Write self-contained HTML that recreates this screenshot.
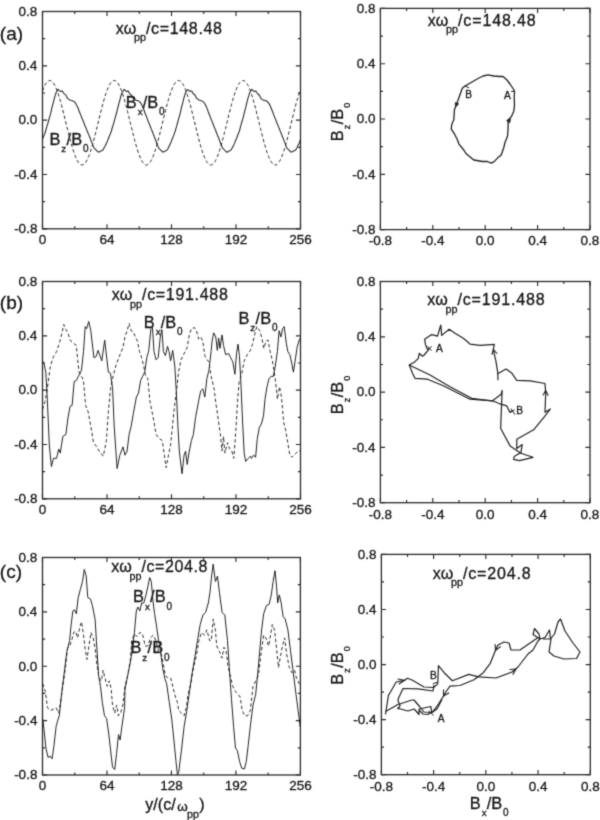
<!DOCTYPE html>
<html><head><meta charset="utf-8"><style>
html,body{margin:0;padding:0;background:#fff;}
svg{display:block;will-change:transform;}
text{font-family:"Liberation Sans",sans-serif;fill:#151515;stroke:#151515;stroke-width:0.3px;}
</style></head><body>
<svg width="600" height="820" viewBox="0 0 600 820">
<defs><filter id="bl" x="0" y="0" width="600" height="820" filterUnits="userSpaceOnUse" color-interpolation-filters="sRGB"><feConvolveMatrix order="3" kernelMatrix="0.0225 0.1050 0.0225 0.1050 0.4900 0.1050 0.0225 0.1050 0.0225" divisor="1" edgeMode="duplicate"/></filter></defs><g filter="url(#bl)"><rect width="600" height="820" fill="#fff"/>
<rect x="42.5" y="11.5" width="258.00" height="217.30" fill="none" stroke="#2b2b2b" stroke-width="1.3"/>
<path d="M42.50,228.8v-4.6M42.50,11.5v4.6M107.00,228.8v-4.6M107.00,11.5v4.6M171.50,228.8v-4.6M171.50,11.5v4.6M236.00,228.8v-4.6M236.00,11.5v4.6M300.50,228.8v-4.6M300.50,11.5v4.6M74.75,228.8v-2.6M74.75,11.5v2.6M139.25,228.8v-2.6M139.25,11.5v2.6M203.75,228.8v-2.6M203.75,11.5v2.6M268.25,228.8v-2.6M268.25,11.5v2.6M42.5,11.50h4.6M300.5,11.50h-4.6M42.5,65.83h4.6M300.5,65.83h-4.6M42.5,120.15h4.6M300.5,120.15h-4.6M42.5,174.48h4.6M300.5,174.48h-4.6M42.5,228.80h4.6M300.5,228.80h-4.6M42.5,38.66h2.6M300.5,38.66h-2.6M42.5,92.99h2.6M300.5,92.99h-2.6M42.5,147.31h2.6M300.5,147.31h-2.6M42.5,201.64h2.6M300.5,201.64h-2.6" stroke="#2b2b2b" stroke-width="1.15" fill="none"/>
<text x="37.40" y="15.80" font-size="13.5" text-anchor="end">0.8</text>
<text x="37.40" y="70.12" font-size="13.5" text-anchor="end">0.4</text>
<text x="37.40" y="124.45" font-size="13.5" text-anchor="end">0.0</text>
<text x="37.40" y="178.78" font-size="13.5" text-anchor="end">-0.4</text>
<text x="37.40" y="233.10" font-size="13.5" text-anchor="end">-0.8</text>
<text x="42.50" y="244.10" font-size="13.5" text-anchor="middle">0</text>
<text x="107.00" y="244.10" font-size="13.5" text-anchor="middle">64</text>
<text x="171.50" y="244.10" font-size="13.5" text-anchor="middle">128</text>
<text x="236.00" y="244.10" font-size="13.5" text-anchor="middle">192</text>
<text x="300.50" y="244.10" font-size="13.5" text-anchor="middle">256</text>
<rect x="42.5" y="281.5" width="258.00" height="217.30" fill="none" stroke="#2b2b2b" stroke-width="1.3"/>
<path d="M42.50,498.8v-4.6M42.50,281.5v4.6M107.00,498.8v-4.6M107.00,281.5v4.6M171.50,498.8v-4.6M171.50,281.5v4.6M236.00,498.8v-4.6M236.00,281.5v4.6M300.50,498.8v-4.6M300.50,281.5v4.6M74.75,498.8v-2.6M74.75,281.5v2.6M139.25,498.8v-2.6M139.25,281.5v2.6M203.75,498.8v-2.6M203.75,281.5v2.6M268.25,498.8v-2.6M268.25,281.5v2.6M42.5,281.50h4.6M300.5,281.50h-4.6M42.5,335.82h4.6M300.5,335.82h-4.6M42.5,390.15h4.6M300.5,390.15h-4.6M42.5,444.48h4.6M300.5,444.48h-4.6M42.5,498.80h4.6M300.5,498.80h-4.6M42.5,308.66h2.6M300.5,308.66h-2.6M42.5,362.99h2.6M300.5,362.99h-2.6M42.5,417.31h2.6M300.5,417.31h-2.6M42.5,471.64h2.6M300.5,471.64h-2.6" stroke="#2b2b2b" stroke-width="1.15" fill="none"/>
<text x="37.40" y="285.80" font-size="13.5" text-anchor="end">0.8</text>
<text x="37.40" y="340.12" font-size="13.5" text-anchor="end">0.4</text>
<text x="37.40" y="394.45" font-size="13.5" text-anchor="end">0.0</text>
<text x="37.40" y="448.78" font-size="13.5" text-anchor="end">-0.4</text>
<text x="37.40" y="503.10" font-size="13.5" text-anchor="end">-0.8</text>
<text x="42.50" y="514.10" font-size="13.5" text-anchor="middle">0</text>
<text x="107.00" y="514.10" font-size="13.5" text-anchor="middle">64</text>
<text x="171.50" y="514.10" font-size="13.5" text-anchor="middle">128</text>
<text x="236.00" y="514.10" font-size="13.5" text-anchor="middle">192</text>
<text x="300.50" y="514.10" font-size="13.5" text-anchor="middle">256</text>
<rect x="42.5" y="557.5" width="257.90" height="217.50" fill="none" stroke="#2b2b2b" stroke-width="1.3"/>
<path d="M42.50,775.0v-4.6M42.50,557.5v4.6M106.97,775.0v-4.6M106.97,557.5v4.6M171.45,775.0v-4.6M171.45,557.5v4.6M235.92,775.0v-4.6M235.92,557.5v4.6M300.40,775.0v-4.6M300.40,557.5v4.6M74.74,775.0v-2.6M74.74,557.5v2.6M139.21,775.0v-2.6M139.21,557.5v2.6M203.69,775.0v-2.6M203.69,557.5v2.6M268.16,775.0v-2.6M268.16,557.5v2.6M42.5,557.50h4.6M300.4,557.50h-4.6M42.5,611.88h4.6M300.4,611.88h-4.6M42.5,666.25h4.6M300.4,666.25h-4.6M42.5,720.62h4.6M300.4,720.62h-4.6M42.5,775.00h4.6M300.4,775.00h-4.6M42.5,584.69h2.6M300.4,584.69h-2.6M42.5,639.06h2.6M300.4,639.06h-2.6M42.5,693.44h2.6M300.4,693.44h-2.6M42.5,747.81h2.6M300.4,747.81h-2.6" stroke="#2b2b2b" stroke-width="1.15" fill="none"/>
<text x="37.40" y="561.80" font-size="13.5" text-anchor="end">0.8</text>
<text x="37.40" y="616.17" font-size="13.5" text-anchor="end">0.4</text>
<text x="37.40" y="670.55" font-size="13.5" text-anchor="end">0.0</text>
<text x="37.40" y="724.92" font-size="13.5" text-anchor="end">-0.4</text>
<text x="37.40" y="779.30" font-size="13.5" text-anchor="end">-0.8</text>
<text x="42.50" y="790.30" font-size="13.5" text-anchor="middle">0</text>
<text x="106.97" y="790.30" font-size="13.5" text-anchor="middle">64</text>
<text x="171.45" y="790.30" font-size="13.5" text-anchor="middle">128</text>
<text x="235.92" y="790.30" font-size="13.5" text-anchor="middle">192</text>
<text x="300.40" y="790.30" font-size="13.5" text-anchor="middle">256</text>
<rect x="380.4" y="8.4" width="209.60" height="221.20" fill="none" stroke="#2b2b2b" stroke-width="1.3"/>
<path d="M380.40,229.6v-4.6M380.40,8.4v4.6M432.80,229.6v-4.6M432.80,8.4v4.6M485.20,229.6v-4.6M485.20,8.4v4.6M537.60,229.6v-4.6M537.60,8.4v4.6M590.00,229.6v-4.6M590.00,8.4v4.6M406.60,229.6v-2.6M406.60,8.4v2.6M459.00,229.6v-2.6M459.00,8.4v2.6M511.40,229.6v-2.6M511.40,8.4v2.6M563.80,229.6v-2.6M563.80,8.4v2.6M380.4,8.40h4.6M590.0,8.40h-4.6M380.4,63.70h4.6M590.0,63.70h-4.6M380.4,119.00h4.6M590.0,119.00h-4.6M380.4,174.30h4.6M590.0,174.30h-4.6M380.4,229.60h4.6M590.0,229.60h-4.6M380.4,36.05h2.6M590.0,36.05h-2.6M380.4,91.35h2.6M590.0,91.35h-2.6M380.4,146.65h2.6M590.0,146.65h-2.6M380.4,201.95h2.6M590.0,201.95h-2.6" stroke="#2b2b2b" stroke-width="1.15" fill="none"/>
<text x="375.60" y="12.70" font-size="13.5" text-anchor="end">0.8</text>
<text x="375.60" y="68.00" font-size="13.5" text-anchor="end">0.4</text>
<text x="375.60" y="123.30" font-size="13.5" text-anchor="end">0.0</text>
<text x="375.60" y="178.60" font-size="13.5" text-anchor="end">-0.4</text>
<text x="375.60" y="233.90" font-size="13.5" text-anchor="end">-0.8</text>
<text x="380.40" y="245.40" font-size="13.5" text-anchor="middle">-0.8</text>
<text x="432.80" y="245.40" font-size="13.5" text-anchor="middle">-0.4</text>
<text x="485.20" y="245.40" font-size="13.5" text-anchor="middle">0.0</text>
<text x="537.60" y="245.40" font-size="13.5" text-anchor="middle">0.4</text>
<text x="590.00" y="245.40" font-size="13.5" text-anchor="middle">0.8</text>
<rect x="380.4" y="281.5" width="209.60" height="221.20" fill="none" stroke="#2b2b2b" stroke-width="1.3"/>
<path d="M380.40,502.7v-4.6M380.40,281.5v4.6M432.80,502.7v-4.6M432.80,281.5v4.6M485.20,502.7v-4.6M485.20,281.5v4.6M537.60,502.7v-4.6M537.60,281.5v4.6M590.00,502.7v-4.6M590.00,281.5v4.6M406.60,502.7v-2.6M406.60,281.5v2.6M459.00,502.7v-2.6M459.00,281.5v2.6M511.40,502.7v-2.6M511.40,281.5v2.6M563.80,502.7v-2.6M563.80,281.5v2.6M380.4,281.50h4.6M590.0,281.50h-4.6M380.4,336.80h4.6M590.0,336.80h-4.6M380.4,392.10h4.6M590.0,392.10h-4.6M380.4,447.40h4.6M590.0,447.40h-4.6M380.4,502.70h4.6M590.0,502.70h-4.6M380.4,309.15h2.6M590.0,309.15h-2.6M380.4,364.45h2.6M590.0,364.45h-2.6M380.4,419.75h2.6M590.0,419.75h-2.6M380.4,475.05h2.6M590.0,475.05h-2.6" stroke="#2b2b2b" stroke-width="1.15" fill="none"/>
<text x="375.60" y="285.80" font-size="13.5" text-anchor="end">0.8</text>
<text x="375.60" y="341.10" font-size="13.5" text-anchor="end">0.4</text>
<text x="375.60" y="396.40" font-size="13.5" text-anchor="end">0.0</text>
<text x="375.60" y="451.70" font-size="13.5" text-anchor="end">-0.4</text>
<text x="375.60" y="507.00" font-size="13.5" text-anchor="end">-0.8</text>
<text x="380.40" y="518.50" font-size="13.5" text-anchor="middle">-0.8</text>
<text x="432.80" y="518.50" font-size="13.5" text-anchor="middle">-0.4</text>
<text x="485.20" y="518.50" font-size="13.5" text-anchor="middle">0.0</text>
<text x="537.60" y="518.50" font-size="13.5" text-anchor="middle">0.4</text>
<text x="590.00" y="518.50" font-size="13.5" text-anchor="middle">0.8</text>
<rect x="381.4" y="554.4" width="208.90" height="220.30" fill="none" stroke="#2b2b2b" stroke-width="1.3"/>
<path d="M381.40,774.7v-4.6M381.40,554.4v4.6M433.62,774.7v-4.6M433.62,554.4v4.6M485.85,774.7v-4.6M485.85,554.4v4.6M538.07,774.7v-4.6M538.07,554.4v4.6M590.30,774.7v-4.6M590.30,554.4v4.6M407.51,774.7v-2.6M407.51,554.4v2.6M459.74,774.7v-2.6M459.74,554.4v2.6M511.96,774.7v-2.6M511.96,554.4v2.6M564.19,774.7v-2.6M564.19,554.4v2.6M381.4,554.40h4.6M590.3,554.40h-4.6M381.4,609.48h4.6M590.3,609.48h-4.6M381.4,664.55h4.6M590.3,664.55h-4.6M381.4,719.62h4.6M590.3,719.62h-4.6M381.4,774.70h4.6M590.3,774.70h-4.6M381.4,581.94h2.6M590.3,581.94h-2.6M381.4,637.01h2.6M590.3,637.01h-2.6M381.4,692.09h2.6M590.3,692.09h-2.6M381.4,747.16h2.6M590.3,747.16h-2.6" stroke="#2b2b2b" stroke-width="1.15" fill="none"/>
<text x="376.60" y="558.70" font-size="13.5" text-anchor="end">0.8</text>
<text x="376.60" y="613.77" font-size="13.5" text-anchor="end">0.4</text>
<text x="376.60" y="668.85" font-size="13.5" text-anchor="end">0.0</text>
<text x="376.60" y="723.92" font-size="13.5" text-anchor="end">-0.4</text>
<text x="376.60" y="779.00" font-size="13.5" text-anchor="end">-0.8</text>
<text x="381.40" y="790.50" font-size="13.5" text-anchor="middle">-0.8</text>
<text x="433.62" y="790.50" font-size="13.5" text-anchor="middle">-0.4</text>
<text x="485.85" y="790.50" font-size="13.5" text-anchor="middle">0.0</text>
<text x="538.07" y="790.50" font-size="13.5" text-anchor="middle">0.4</text>
<text x="590.30" y="790.50" font-size="13.5" text-anchor="middle">0.8</text>
<text x="115.82" y="34.10" font-size="16.0" text-anchor="start">xω</text>
<text x="134.10" y="41.40" font-size="10.8" text-anchor="start">pp</text>
<text x="146.00" y="34.10" font-size="16.0" text-anchor="start" textLength="76.00" lengthAdjust="spacing">/c=148.48</text>
<text x="427.82" y="26.10" font-size="16.0" text-anchor="start">xω</text>
<text x="446.10" y="33.40" font-size="10.8" text-anchor="start">pp</text>
<text x="458.00" y="26.10" font-size="16.0" text-anchor="start" textLength="77.70" lengthAdjust="spacing">/c=148.48</text>
<text x="111.82" y="300.20" font-size="16.0" text-anchor="start">xω</text>
<text x="130.10" y="307.50" font-size="10.8" text-anchor="start">pp</text>
<text x="142.00" y="300.20" font-size="16.0" text-anchor="start" textLength="85.80" lengthAdjust="spacing">/c=191.488</text>
<text x="427.32" y="305.30" font-size="16.0" text-anchor="start">xω</text>
<text x="445.60" y="312.60" font-size="10.8" text-anchor="start">pp</text>
<text x="457.50" y="305.30" font-size="16.0" text-anchor="start" textLength="87.20" lengthAdjust="spacing">/c=191.488</text>
<text x="111.32" y="572.20" font-size="16.0" text-anchor="start">xω</text>
<text x="129.60" y="579.50" font-size="10.8" text-anchor="start">pp</text>
<text x="141.50" y="572.20" font-size="16.0" text-anchor="start" textLength="65.90" lengthAdjust="spacing">/c=204.8</text>
<text x="432.82" y="578.60" font-size="16.0" text-anchor="start">xω</text>
<text x="451.10" y="585.90" font-size="10.8" text-anchor="start">pp</text>
<text x="463.00" y="578.60" font-size="16.0" text-anchor="start" textLength="67.70" lengthAdjust="spacing">/c=204.8</text>
<text x="-0.18" y="40.30" font-size="19.0" text-anchor="start">(a)</text>
<text x="-0.18" y="309.40" font-size="19.0" text-anchor="start">(b)</text>
<text x="-0.18" y="578.00" font-size="19.0" text-anchor="start">(c)</text>
<text x="125.66" y="107.90" font-size="16.4" text-anchor="start">B</text>
<text x="137.69" y="115.30" font-size="9.8" text-anchor="start">x</text>
<text x="142.80" y="107.90" font-size="16.4" text-anchor="start">/B</text>
<text x="159.11" y="115.30" font-size="10.0" text-anchor="start">0</text>
<text x="49.46" y="145.10" font-size="16.4" text-anchor="start">B</text>
<text x="61.20" y="152.20" font-size="9.8" text-anchor="start">z</text>
<text x="66.60" y="145.10" font-size="16.4" text-anchor="start">/B</text>
<text x="82.91" y="152.20" font-size="10.0" text-anchor="start">0</text>
<text x="143.66" y="327.50" font-size="16.4" text-anchor="start">B</text>
<text x="155.69" y="334.90" font-size="9.8" text-anchor="start">x</text>
<text x="160.80" y="327.50" font-size="16.4" text-anchor="start">/B</text>
<text x="177.11" y="334.90" font-size="10.0" text-anchor="start">0</text>
<text x="238.46" y="323.50" font-size="16.4" text-anchor="start">B</text>
<text x="250.20" y="330.60" font-size="9.8" text-anchor="start">z</text>
<text x="255.60" y="323.50" font-size="16.4" text-anchor="start">/B</text>
<text x="271.91" y="330.60" font-size="10.0" text-anchor="start">0</text>
<text x="132.96" y="602.30" font-size="16.4" text-anchor="start">B</text>
<text x="144.99" y="609.70" font-size="9.8" text-anchor="start">x</text>
<text x="150.10" y="602.30" font-size="16.4" text-anchor="start">/B</text>
<text x="166.41" y="609.70" font-size="10.0" text-anchor="start">0</text>
<text x="130.46" y="653.40" font-size="16.4" text-anchor="start">B</text>
<text x="142.20" y="660.50" font-size="9.8" text-anchor="start">z</text>
<text x="147.60" y="653.40" font-size="16.4" text-anchor="start">/B</text>
<text x="163.91" y="660.50" font-size="10.0" text-anchor="start">0</text>
<text x="469.66" y="808.60" font-size="16.4" text-anchor="start">B</text>
<text x="481.69" y="816.00" font-size="9.8" text-anchor="start">x</text>
<text x="486.80" y="808.60" font-size="16.4" text-anchor="start">/B</text>
<text x="503.11" y="816.00" font-size="10.0" text-anchor="start">0</text>
<g transform="translate(342.6,140.0) rotate(-90)"><text x="-1.34" y="0.00" font-size="16.4" text-anchor="start">B</text>
<text x="10.40" y="7.00" font-size="9.8" text-anchor="start">z</text>
<text x="15.80" y="0.00" font-size="16.4" text-anchor="start">/B</text>
<text x="32.15" y="7.00" font-size="9.0" text-anchor="start">0</text></g>
<g transform="translate(342.6,413.0) rotate(-90)"><text x="-1.34" y="0.00" font-size="16.4" text-anchor="start">B</text>
<text x="10.40" y="7.00" font-size="9.8" text-anchor="start">z</text>
<text x="15.80" y="0.00" font-size="16.4" text-anchor="start">/B</text>
<text x="32.15" y="7.00" font-size="9.0" text-anchor="start">0</text></g>
<g transform="translate(342.6,683.5) rotate(-90)"><text x="-1.34" y="0.00" font-size="16.4" text-anchor="start">B</text>
<text x="10.40" y="7.00" font-size="9.8" text-anchor="start">z</text>
<text x="15.80" y="0.00" font-size="16.4" text-anchor="start">/B</text>
<text x="32.15" y="7.00" font-size="9.0" text-anchor="start">0</text></g>
<text x="145.36" y="810.30" font-size="16.0" text-anchor="start">y/(c/</text>
<text x="177.36" y="810.50" font-size="13.4" text-anchor="start">ω</text>
<text x="187.10" y="817.60" font-size="10.8" text-anchor="start">pp</text>
<text x="199.16" y="810.30" font-size="16.0" text-anchor="start">)</text>
<path d="M42.5,90.8 L43.0,89.5 L43.5,88.2 L44.0,87.1 L44.5,86.0 L45.0,85.0 L45.5,84.2 L46.0,83.4 L46.5,82.7 L47.0,82.1 L47.5,81.6 L48.0,81.1 L48.5,80.8 L49.0,80.6 L49.5,80.5 L50.0,80.5 L50.5,80.6 L51.0,80.8 L51.5,81.1 L52.0,81.5 L52.5,82.0 L53.0,82.5 L53.5,83.2 L54.0,84.0 L54.5,84.9 L55.0,85.8 L55.5,86.9 L56.0,88.0 L56.5,89.2 L57.0,90.5 L57.5,91.9 L58.0,93.3 L58.5,94.8 L59.0,96.4 L59.5,98.0 L60.0,99.8 L60.5,101.5 L61.0,103.3 L61.5,105.2 L62.0,107.1 L62.5,109.0 L63.0,111.0 L63.5,112.9 L64.0,115.0 L64.5,117.0 L65.0,119.0 L65.5,121.1 L66.0,123.2 L66.5,125.2 L67.0,127.3 L67.5,129.3 L68.0,131.3 L68.5,133.4 L69.0,135.3 L69.5,137.3 L70.0,139.2 L70.5,141.1 L71.0,142.9 L71.5,144.7 L72.0,146.4 L72.5,148.1 L73.0,149.7 L73.5,151.3 L74.0,152.8 L74.5,154.2 L75.0,155.5 L75.5,156.8 L76.0,158.0 L76.5,159.1 L77.0,160.1 L77.5,161.0 L78.0,161.8 L78.5,162.6 L79.0,163.2 L79.5,163.7 L80.0,164.2 L80.5,164.5 L81.0,164.8 L81.5,164.9 L82.0,165.0 L82.5,164.9 L83.0,164.8 L83.5,164.5 L84.0,164.2 L84.5,163.7 L85.0,163.2 L85.5,162.6 L86.0,161.8 L86.5,161.0 L87.0,160.1 L87.5,159.1 L88.0,158.0 L88.5,156.8 L89.0,155.5 L89.5,154.2 L90.0,152.8 L90.5,151.3 L91.0,149.7 L91.5,148.1 L92.0,146.4 L92.5,144.7 L93.0,142.9 L93.5,141.1 L94.0,139.2 L94.5,137.3 L95.0,135.3 L95.5,133.4 L96.0,131.3 L96.5,129.3 L97.0,127.3 L97.5,125.2 L98.0,123.2 L98.5,121.1 L99.0,119.0 L99.5,117.0 L100.0,115.0 L100.5,112.9 L101.0,111.0 L101.5,109.0 L102.0,107.1 L102.5,105.2 L103.0,103.3 L103.5,101.5 L104.0,99.8 L104.5,98.0 L105.0,96.4 L105.5,94.8 L106.0,93.3 L106.5,91.9 L107.0,90.5 L107.5,89.2 L108.0,88.0 L108.5,86.9 L109.0,85.8 L109.5,84.9 L110.0,84.0 L110.5,83.2 L111.0,82.5 L111.5,82.0 L112.0,81.5 L112.5,81.1 L113.0,80.8 L113.5,80.6 L114.0,80.5 L114.5,80.5 L115.0,80.6 L115.5,80.8 L116.0,81.1 L116.5,81.6 L117.0,82.1 L117.5,82.7 L118.0,83.4 L118.5,84.2 L119.0,85.0 L119.5,86.0 L120.0,87.1 L120.5,88.2 L121.0,89.5 L121.5,90.8 L122.0,92.2 L122.5,93.6 L123.0,95.1 L123.5,96.7 L124.0,98.4 L124.5,100.1 L125.0,101.9 L125.5,103.7 L126.0,105.5 L126.5,107.4 L127.0,109.4 L127.5,111.4 L128.0,113.3 L128.5,115.4 L129.0,117.4 L129.5,119.5 L130.0,121.5 L130.5,123.6 L131.0,125.6 L131.5,127.7 L132.0,129.7 L132.5,131.7 L133.0,133.8 L133.5,135.7 L134.0,137.7 L134.5,139.6 L135.0,141.5 L135.5,143.3 L136.0,145.1 L136.5,146.8 L137.0,148.4 L137.5,150.0 L138.0,151.6 L138.5,153.1 L139.0,154.5 L139.5,155.8 L140.0,157.0 L140.5,158.2 L141.0,159.3 L141.5,160.3 L142.0,161.2 L142.5,162.0 L143.0,162.7 L143.5,163.3 L144.0,163.8 L144.5,164.3 L145.0,164.6 L145.5,164.8 L146.0,165.0 L146.5,165.0 L147.0,164.9 L147.5,164.8 L148.0,164.5 L148.5,164.1 L149.0,163.6 L149.5,163.1 L150.0,162.4 L150.5,161.7 L151.0,160.8 L151.5,159.9 L152.0,158.8 L152.5,157.7 L153.0,156.5 L153.5,155.3 L154.0,153.9 L154.5,152.5 L155.0,151.0 L155.5,149.4 L156.0,147.8 L156.5,146.1 L157.0,144.3 L157.5,142.6 L158.0,140.7 L158.5,138.8 L159.0,136.9 L159.5,134.9 L160.0,133.0 L160.5,130.9 L161.0,128.9 L161.5,126.9 L162.0,124.8 L162.5,122.8 L163.0,120.7 L163.5,118.6 L164.0,116.6 L164.5,114.6 L165.0,112.5 L165.5,110.6 L166.0,108.6 L166.5,106.7 L167.0,104.8 L167.5,102.9 L168.0,101.2 L168.5,99.4 L169.0,97.7 L169.5,96.1 L170.0,94.5 L170.5,93.0 L171.0,91.6 L171.5,90.2 L172.0,89.0 L172.5,87.8 L173.0,86.7 L173.5,85.6 L174.0,84.7 L174.5,83.8 L175.0,83.1 L175.5,82.4 L176.0,81.9 L176.5,81.4 L177.0,81.0 L177.5,80.7 L178.0,80.6 L178.5,80.5 L179.0,80.5 L179.5,80.7 L180.0,80.9 L180.5,81.2 L181.0,81.7 L181.5,82.2 L182.0,82.8 L182.5,83.5 L183.0,84.3 L183.5,85.2 L184.0,86.2 L184.5,87.3 L185.0,88.5 L185.5,89.7 L186.0,91.0 L186.5,92.4 L187.0,93.9 L187.5,95.5 L188.0,97.1 L188.5,98.7 L189.0,100.4 L189.5,102.2 L190.0,104.0 L190.5,105.9 L191.0,107.8 L191.5,109.8 L192.0,111.7 L192.5,113.8 L193.0,115.8 L193.5,117.8 L194.0,119.9 L194.5,121.9 L195.0,124.0 L195.5,126.0 L196.0,128.1 L196.5,130.1 L197.0,132.2 L197.5,134.1 L198.0,136.1 L198.5,138.1 L199.0,140.0 L199.5,141.8 L200.0,143.6 L200.5,145.4 L201.0,147.1 L201.5,148.8 L202.0,150.4 L202.5,151.9 L203.0,153.3 L203.5,154.7 L204.0,156.0 L204.5,157.3 L205.0,158.4 L205.5,159.5 L206.0,160.5 L206.5,161.3 L207.0,162.1 L207.5,162.8 L208.0,163.4 L208.5,163.9 L209.0,164.4 L209.5,164.7 L210.0,164.9 L210.5,165.0 L211.0,165.0 L211.5,164.9 L212.0,164.7 L212.5,164.4 L213.0,164.0 L213.5,163.5 L214.0,163.0 L214.5,162.3 L215.0,161.5 L215.5,160.6 L216.0,159.7 L216.5,158.6 L217.0,157.5 L217.5,156.3 L218.0,155.0 L218.5,153.6 L219.0,152.2 L219.5,150.7 L220.0,149.1 L220.5,147.5 L221.0,145.7 L221.5,144.0 L222.0,142.2 L222.5,140.3 L223.0,138.4 L223.5,136.5 L224.0,134.5 L224.5,132.6 L225.0,130.5 L225.5,128.5 L226.0,126.5 L226.5,124.4 L227.0,122.3 L227.5,120.3 L228.0,118.2 L228.5,116.2 L229.0,114.2 L229.5,112.1 L230.0,110.2 L230.5,108.2 L231.0,106.3 L231.5,104.4 L232.0,102.6 L232.5,100.8 L233.0,99.1 L233.5,97.4 L234.0,95.8 L234.5,94.2 L235.0,92.7 L235.5,91.3 L236.0,90.0 L236.5,88.7 L237.0,87.5 L237.5,86.4 L238.0,85.4 L238.5,84.5 L239.0,83.7 L239.5,82.9 L240.0,82.3 L240.5,81.8 L241.0,81.3 L241.5,81.0 L242.0,80.7 L242.5,80.6 L243.0,80.5 L243.5,80.6 L244.0,80.7 L244.5,81.0 L245.0,81.3 L245.5,81.8 L246.0,82.3 L246.5,82.9 L247.0,83.7 L247.5,84.5 L248.0,85.4 L248.5,86.4 L249.0,87.5 L249.5,88.7 L250.0,90.0 L250.5,91.3 L251.0,92.7 L251.5,94.2 L252.0,95.8 L252.5,97.4 L253.0,99.1 L253.5,100.8 L254.0,102.6 L254.5,104.4 L255.0,106.3 L255.5,108.2 L256.0,110.2 L256.5,112.1 L257.0,114.2 L257.5,116.2 L258.0,118.2 L258.5,120.3 L259.0,122.3 L259.5,124.4 L260.0,126.5 L260.5,128.5 L261.0,130.5 L261.5,132.6 L262.0,134.5 L262.5,136.5 L263.0,138.4 L263.5,140.3 L264.0,142.2 L264.5,144.0 L265.0,145.7 L265.5,147.5 L266.0,149.1 L266.5,150.7 L267.0,152.2 L267.5,153.6 L268.0,155.0 L268.5,156.3 L269.0,157.5 L269.5,158.6 L270.0,159.7 L270.5,160.6 L271.0,161.5 L271.5,162.3 L272.0,163.0 L272.5,163.5 L273.0,164.0 L273.5,164.4 L274.0,164.7 L274.5,164.9 L275.0,165.0 L275.5,165.0 L276.0,164.9 L276.5,164.7 L277.0,164.4 L277.5,163.9 L278.0,163.4 L278.5,162.8 L279.0,162.1 L279.5,161.3 L280.0,160.5 L280.5,159.5 L281.0,158.4 L281.5,157.3 L282.0,156.0 L282.5,154.7 L283.0,153.3 L283.5,151.9 L284.0,150.4 L284.5,148.8 L285.0,147.1 L285.5,145.4 L286.0,143.6 L286.5,141.8 L287.0,140.0 L287.5,138.1 L288.0,136.1 L288.5,134.1 L289.0,132.2 L289.5,130.1 L290.0,128.1 L290.5,126.0 L291.0,124.0 L291.5,121.9 L292.0,119.9 L292.5,117.8 L293.0,115.8 L293.5,113.8 L294.0,111.7 L294.5,109.8 L295.0,107.8 L295.5,105.9 L296.0,104.0 L296.5,102.2 L297.0,100.4 L297.5,98.7 L298.0,97.1 L298.5,95.5 L299.0,93.9 L299.5,92.4 L300.0,91.0 L300.5,89.7" fill="none" stroke="#222" stroke-width="1.0" stroke-linejoin="round" stroke-dasharray="3.4,2.4"/>
<path d="M42.5,139.1 L43.2,137.3 L44.0,135.4 L44.8,133.5 L45.5,131.5 L46.2,128.9 L47.0,126.2 L47.8,123.6 L48.5,121.0 L49.2,118.4 L50.0,115.7 L50.8,112.7 L51.5,109.7 L52.2,106.7 L53.0,103.7 L53.8,100.7 L54.5,97.8 L55.2,95.3 L56.0,92.8 L56.8,91.5 L57.5,90.4 L58.2,89.3 L59.0,90.1 L59.8,90.8 L60.5,91.5 L61.2,91.2 L62.0,90.9 L62.8,91.6 L63.5,93.0 L64.2,94.0 L65.0,94.4 L65.8,94.9 L66.5,96.4 L67.2,98.0 L68.0,98.7 L68.8,99.3 L69.5,99.9 L70.2,100.1 L71.0,100.3 L71.8,100.4 L72.5,100.7 L73.2,101.1 L74.0,101.5 L74.8,102.2 L75.5,103.2 L76.2,104.3 L77.0,105.9 L77.8,107.4 L78.5,109.3 L79.2,111.3 L80.0,113.2 L80.8,115.1 L81.5,117.0 L82.2,118.8 L83.0,120.7 L83.8,122.5 L84.5,124.4 L85.2,126.2 L86.0,128.0 L86.8,129.9 L87.5,131.7 L88.2,133.5 L89.0,135.4 L89.8,137.2 L90.5,139.1 L91.2,141.0 L92.0,142.9 L92.8,144.9 L93.5,146.8 L94.2,148.1 L95.0,148.9 L95.8,149.6 L96.5,150.4 L97.2,151.1 L98.0,151.9 L98.8,152.1 L99.5,151.7 L100.2,151.3 L101.0,151.0 L101.8,150.6 L102.5,150.3 L103.2,149.6 L104.0,148.1 L104.8,146.7 L105.5,145.2 L106.2,143.7 L107.0,142.0 L107.8,140.1 L108.5,138.3 L109.2,136.5 L110.0,134.6 L110.8,132.8 L111.5,130.5 L112.2,128.0 L113.0,125.4 L113.8,122.8 L114.5,120.3 L115.2,117.7 L116.0,115.0 L116.8,112.0 L117.5,109.1 L118.2,106.1 L119.0,103.2 L119.8,100.3 L120.5,97.5 L121.2,95.1 L122.0,92.7 L122.8,91.5 L123.5,90.3 L124.2,89.3 L125.0,90.1 L125.8,90.8 L126.5,91.5 L127.2,91.2 L128.0,90.9 L128.8,92.0 L129.5,93.4 L130.2,94.1 L131.0,94.6 L131.8,95.4 L132.5,97.1 L133.2,98.5 L134.0,99.0 L134.8,99.6 L135.5,100.1 L136.2,100.2 L137.0,100.4 L137.8,100.6 L138.5,101.0 L139.2,101.4 L140.0,102.1 L140.8,103.1 L141.5,104.3 L142.2,105.8 L143.0,107.4 L143.8,109.5 L144.5,111.5 L145.2,113.5 L146.0,115.5 L146.8,117.4 L147.5,119.4 L148.2,121.3 L149.0,123.2 L149.8,125.1 L150.5,127.0 L151.2,128.9 L152.0,130.8 L152.8,132.7 L153.5,134.6 L154.2,136.5 L155.0,138.5 L155.8,140.5 L156.5,142.5 L157.2,144.5 L158.0,146.5 L158.8,148.1 L159.5,148.8 L160.2,149.6 L161.0,150.4 L161.8,151.2 L162.5,151.9 L163.2,152.1 L164.0,151.7 L164.8,151.3 L165.5,150.9 L166.2,150.5 L167.0,150.1 L167.8,149.0 L168.5,147.5 L169.2,146.0 L170.0,144.4 L170.8,142.8 L171.5,140.9 L172.2,139.0 L173.0,137.1 L173.8,135.2 L174.5,133.2 L175.2,131.1 L176.0,128.4 L176.8,125.7 L177.5,123.0 L178.2,120.4 L179.0,117.7 L179.8,114.8 L180.5,111.8 L181.2,108.7 L182.0,105.7 L182.8,102.6 L183.5,99.6 L184.2,96.8 L185.0,94.3 L185.8,92.2 L186.5,91.0 L187.2,89.8 L188.0,89.7 L188.8,90.4 L189.5,91.2 L190.2,91.3 L191.0,91.0 L191.8,91.1 L192.5,92.5 L193.2,93.8 L194.0,94.3 L194.8,94.8 L195.5,96.0 L196.2,97.6 L197.0,98.6 L197.8,99.2 L198.5,99.8 L199.2,100.1 L200.0,100.3 L200.8,100.4 L201.5,100.7 L202.2,101.1 L203.0,101.5 L203.8,102.3 L204.5,103.3 L205.2,104.5 L206.0,106.1 L206.8,107.7 L207.5,109.7 L208.2,111.7 L209.0,113.7 L209.8,115.7 L210.5,117.6 L211.2,119.5 L212.0,121.4 L212.8,123.3 L213.5,125.2 L214.2,127.0 L215.0,128.9 L215.8,130.8 L216.5,132.7 L217.2,134.6 L218.0,136.5 L218.8,138.4 L219.5,140.3 L220.2,142.3 L221.0,144.3 L221.8,146.3 L222.5,148.0 L223.2,148.7 L224.0,149.5 L224.8,150.3 L225.5,151.0 L226.2,151.8 L227.0,152.2 L227.8,151.8 L228.5,151.3 L229.2,151.0 L230.0,150.6 L230.8,150.2 L231.5,149.4 L232.2,147.9 L233.0,146.4 L233.8,144.9 L234.5,143.4 L235.2,141.5 L236.0,139.6 L236.8,137.7 L237.5,135.8 L238.2,134.0 L239.0,132.1 L239.8,129.5 L240.5,126.8 L241.2,124.2 L242.0,121.5 L242.8,118.9 L243.5,116.3 L244.2,113.2 L245.0,110.2 L245.8,107.2 L246.5,104.2 L247.2,101.2 L248.0,98.2 L248.8,95.7 L249.5,93.2 L250.2,91.7 L251.0,90.5 L251.8,89.4 L252.5,90.0 L253.2,90.7 L254.0,91.5 L254.8,91.2 L255.5,90.9 L256.2,91.6 L257.0,93.0 L257.8,94.0 L258.5,94.5 L259.2,95.0 L260.0,96.5 L260.8,98.2 L261.5,98.8 L262.2,99.4 L263.0,100.0 L263.8,100.2 L264.5,100.3 L265.2,100.5 L266.0,100.8 L266.8,101.2 L267.5,101.6 L268.2,102.6 L269.0,103.6 L269.8,104.9 L270.5,106.5 L271.2,108.2 L272.0,110.2 L272.8,112.2 L273.5,114.1 L274.2,116.1 L275.0,118.0 L275.8,119.9 L276.5,121.8 L277.2,123.6 L278.0,125.5 L278.8,127.4 L279.5,129.2 L280.2,131.1 L281.0,133.0 L281.8,134.9 L282.5,136.8 L283.2,138.6 L284.0,140.6 L284.8,142.6 L285.5,144.6 L286.2,146.6 L287.0,148.1 L287.8,148.8 L288.5,149.6 L289.2,150.3 L290.0,151.1 L290.8,151.9 L291.5,152.1 L292.2,151.7 L293.0,151.3 L293.8,150.9 L294.5,150.6 L295.2,150.2 L296.0,149.4 L296.8,147.9 L297.5,146.4 L298.2,144.9 L299.0,143.4 L299.8,141.5 L300.5,139.6" fill="none" stroke="#222" stroke-width="1.05" stroke-linejoin="round"/>
<path d="M42.5,409.5 L45.2,401.2 L47.3,388.8 L50.4,366.0 L53.5,356.7 L56.6,351.5 L59.7,342.1 L61.8,333.8 L63.8,324.5 L65.9,329.7 L68.0,332.8 L70.1,340.1 L73.2,343.2 L76.3,345.3 L77.7,359.8 L79.0,372.2 L81.5,376.4 L83.5,380.5 L85.6,405.4 L88.1,411.6 L90.8,426.1 L93.5,442.7 L96.0,445.8 L99.1,451.0 L103.3,456.2 L106.4,440.6 L108.4,411.6 L110.5,388.8 L112.6,378.4 L115.7,366.0 L118.8,357.7 L123.0,347.3 L125.0,337.0 L127.1,330.7 L129.1,323.5 L131.2,330.7 L133.3,331.8 L135.4,337.0 L137.4,341.1 L139.5,351.5 L141.6,357.7 L143.7,366.0 L145.7,376.4 L147.8,378.4 L149.9,401.2 L152.0,411.6 L154.0,422.0 L156.1,434.4 L159.2,438.6 L162.3,440.6 L164.4,455.2 L166.1,467.6 L168.5,455.2 L170.6,444.8 L172.7,424.0 L174.8,403.3 L176.8,388.8 L178.5,372.2 L181.0,359.8 L184.1,353.6 L187.2,347.3 L189.3,334.9 L191.4,328.7 L194.5,327.6 L196.5,330.7 L198.6,339.0 L200.7,337.0 L202.8,341.1 L204.8,355.6 L206.9,359.8 L209.0,361.9 L211.1,376.4 L212.1,380.5 L214.1,388.8 L216.2,405.4 L218.3,419.9 L220.4,434.4 L222.0,451.0 L223.5,436.5 L224.9,453.1 L227.6,442.7 L229.7,448.9 L231.8,451.0 L233.8,458.3 L235.9,430.3 L237.4,403.3 L239.0,382.6 L242.1,372.2 L244.2,360.8 L247.3,354.6 L250.4,350.4 L252.5,344.2 L254.6,334.9 L256.7,326.6 L259.8,330.7 L261.8,338.0 L263.9,348.4 L266.0,341.1 L268.1,340.1 L270.1,351.5 L272.2,359.8 L274.3,372.2 L276.4,388.8 L277.4,399.2 L279.5,386.7 L281.5,397.1 L283.6,422.0 L285.7,430.3 L287.8,442.7 L289.8,455.2 L291.9,457.2 L294.0,455.2 L296.1,453.1 L298.1,451.0 L300.3,451.0" fill="none" stroke="#222" stroke-width="0.95" stroke-linejoin="round" stroke-dasharray="3.4,2.4"/>
<path d="M42.5,360.8 L44.1,363.9 L45.8,372.2 L47.3,399.2 L49.3,444.8 L51.4,466.6 L53.5,458.3 L56.6,458.3 L58.7,449.0 L60.3,453.1 L62.8,436.5 L65.9,434.4 L68.0,417.8 L70.1,406.4 L72.1,405.4 L74.2,381.5 L76.3,380.5 L78.4,376.4 L81.5,370.1 L83.5,351.5 L85.2,326.6 L86.7,328.7 L88.7,321.4 L90.8,330.7 L93.9,357.7 L96.0,356.7 L98.1,350.4 L101.8,360.8 L104.7,340.1 L106.8,358.7 L108.4,372.2 L110.5,373.3 L112.6,388.8 L114.2,426.1 L117.1,468.6 L119.8,455.2 L123.0,446.9 L125.0,455.2 L127.1,451.0 L129.1,434.4 L131.2,426.1 L133.3,413.7 L136.4,397.1 L138.5,393.0 L140.6,380.5 L142.6,376.4 L144.7,372.2 L146.8,357.7 L148.8,350.4 L150.9,328.7 L152.4,326.6 L154.0,351.5 L156.1,359.8 L158.2,357.7 L160.3,337.0 L161.9,329.7 L163.4,351.5 L165.4,355.6 L167.5,346.3 L169.0,351.5 L170.6,360.8 L172.7,350.4 L174.8,366.0 L176.4,393.0 L177.9,426.1 L179.3,451.0 L182.0,473.8 L184.1,455.2 L185.6,451.0 L187.2,464.5 L189.3,451.0 L191.4,440.6 L193.4,434.4 L195.5,417.8 L198.6,401.2 L200.7,390.9 L202.8,388.8 L204.8,397.1 L206.9,378.4 L209.0,370.1 L211.1,351.5 L212.1,341.1 L213.7,332.8 L215.8,337.0 L217.3,350.4 L218.7,338.0 L220.0,348.4 L222.0,334.9 L223.5,345.3 L225.6,354.6 L228.7,353.6 L230.7,357.7 L232.8,361.8 L234.9,374.3 L236.5,353.6 L238.0,344.2 L239.4,355.6 L240.7,378.4 L241.5,397.1 L242.8,426.1 L244.2,453.1 L245.7,461.4 L248.4,458.3 L250.4,456.2 L251.5,458.3 L253.5,455.2 L255.6,457.2 L257.3,438.6 L259.4,427.2 L261.4,424.0 L263.5,415.8 L265.0,399.2 L267.0,386.7 L269.1,378.4 L271.2,376.4 L273.3,376.4 L275.3,366.0 L277.4,351.5 L279.1,330.7 L280.9,337.0 L282.6,328.7 L284.2,326.6 L286.3,343.2 L287.8,351.5 L289.8,354.6 L291.9,363.9 L293.4,372.2 L295.0,361.8 L297.1,347.3 L299.2,340.1 L300.5,338.0" fill="none" stroke="#222" stroke-width="1.0" stroke-linejoin="round"/>
<path d="M42.7,683.6 L45.4,691.6 L47.5,707.8 L50.7,710.5 L53.4,709.1 L56.1,707.8 L58.8,713.1 L61.0,699.7 L62.8,686.3 L65.5,667.5 L67.4,648.7 L69.6,646.0 L71.7,640.6 L73.6,632.5 L75.5,631.2 L77.6,637.9 L79.8,627.2 L81.6,621.8 L83.5,635.2 L85.1,648.7 L87.0,659.4 L88.9,646.0 L91.0,632.5 L93.2,637.9 L95.1,648.7 L97.0,664.8 L99.1,678.2 L101.3,680.9 L103.1,670.2 L105.0,678.2 L107.2,686.3 L109.3,680.9 L111.2,689.0 L112.5,705.1 L114.7,713.1 L116.6,705.1 L118.5,715.8 L120.6,713.1 L122.8,705.1 L125.0,686.3 L127.7,675.5 L130.4,659.4 L131.7,640.6 L134.4,633.9 L137.1,636.6 L139.8,632.5 L142.5,633.9 L145.2,646.0 L147.8,646.0 L150.5,637.9 L153.2,635.2 L155.9,640.6 L158.6,651.3 L161.3,654.0 L164.0,667.5 L165.3,675.5 L168.0,678.2 L170.7,678.2 L173.4,689.0 L175.5,697.0 L177.4,702.4 L178.7,710.5 L181.4,713.1 L184.1,715.8 L186.3,707.8 L188.1,694.3 L190.8,683.6 L193.5,667.5 L196.2,656.7 L198.9,640.6 L201.6,632.5 L204.3,635.2 L206.9,629.9 L209.6,640.6 L211.3,640.6 L213.2,619.1 L215.4,629.9 L216.7,646.0 L219.4,651.3 L222.1,658.1 L224.0,647.3 L226.1,651.3 L228.3,667.5 L230.2,675.5 L232.8,686.3 L235.5,691.6 L238.2,694.3 L240.1,697.0 L242.2,710.5 L244.9,715.8 L247.6,715.8 L250.3,710.5 L253.0,686.3 L255.7,680.9 L258.4,675.5 L261.0,654.0 L263.7,635.2 L265.9,637.9 L268.6,646.0 L270.5,635.2 L272.3,624.5 L274.5,629.9 L276.6,648.7 L278.5,667.5 L280.4,656.7 L282.5,646.0 L284.7,637.9 L286.6,654.0 L289.3,667.5 L292.0,672.8 L294.6,670.2 L296.5,678.2 L298.1,680.9 L300.2,686.3" fill="none" stroke="#222" stroke-width="0.95" stroke-linejoin="round" stroke-dasharray="3.4,2.4"/>
<path d="M42.7,718.5 L44.0,729.3 L45.9,748.1 L48.1,757.5 L50.2,756.1 L52.1,758.8 L54.0,745.4 L56.1,726.6 L57.5,721.2 L59.3,715.8 L61.5,694.3 L64.2,672.8 L66.9,651.3 L69.6,640.6 L70.9,627.2 L72.8,611.0 L74.4,609.7 L76.3,613.7 L78.2,597.6 L80.3,589.6 L82.5,581.5 L84.3,569.4 L86.2,576.1 L87.8,597.6 L90.5,599.0 L92.4,605.7 L95.1,619.1 L96.4,640.6 L98.6,675.5 L100.5,686.3 L102.3,702.4 L104.5,715.8 L106.6,718.5 L108.5,732.0 L110.4,748.1 L112.5,766.9 L114.7,769.6 L116.6,753.4 L118.5,734.6 L120.1,740.0 L121.9,726.6 L124.6,707.8 L125.0,689.0 L127.7,675.5 L130.4,662.1 L132.5,648.7 L134.4,632.5 L136.3,611.0 L137.9,607.0 L139.8,611.0 L141.7,603.0 L143.8,603.0 L146.0,594.9 L147.8,586.9 L149.7,577.5 L151.3,581.5 L153.2,603.0 L154.6,613.7 L156.7,627.2 L158.6,640.6 L160.5,651.3 L162.6,667.5 L164.8,678.2 L166.6,683.6 L169.3,702.4 L172.0,721.2 L173.9,740.0 L176.0,761.5 L177.4,775.0 L178.7,772.3 L181.4,750.8 L184.1,726.6 L186.8,710.5 L189.5,691.6 L192.2,672.8 L194.9,656.7 L197.5,640.6 L200.2,624.5 L202.9,615.1 L205.6,612.4 L208.3,603.0 L210.0,592.2 L211.3,578.8 L213.2,564.0 L215.4,581.5 L217.5,576.1 L219.4,592.2 L222.1,612.4 L224.8,615.1 L227.5,640.6 L229.3,667.5 L231.5,699.7 L233.6,726.6 L235.5,748.1 L237.4,750.8 L239.6,761.5 L241.7,768.2 L244.4,769.0 L246.3,761.5 L248.2,745.4 L250.3,726.6 L253.0,705.1 L255.7,694.3 L257.8,672.8 L259.7,651.3 L261.6,629.9 L263.7,613.7 L266.4,605.7 L269.1,604.3 L271.3,594.9 L273.1,581.5 L275.0,570.7 L276.6,586.9 L277.7,603.0 L279.3,594.9 L281.2,603.0 L283.1,616.4 L285.2,619.1 L287.9,629.9 L290.6,651.3 L293.3,672.8 L296.0,694.3 L298.1,710.5 L300.2,726.6" fill="none" stroke="#222" stroke-width="1.0" stroke-linejoin="round"/>
<path d="M465.0,86.0 L472.0,82.0 L478.0,78.5 L483.0,76.0 L488.0,74.8 L494.0,76.0 L500.0,76.5 L503.0,76.5 L507.0,80.0 L510.0,84.0 L514.0,90.0 L514.5,93.0 L514.2,96.3 L514.5,105.4 L513.8,111.2 L511.2,116.9 L508.1,120.0 L508.1,128.8 L507.5,136.2 L505.0,142.5 L503.8,147.5 L501.2,155.0 L497.5,158.1 L493.8,161.9 L491.2,163.1 L487.5,161.5 L482.5,161.5 L473.8,160.0 L466.2,153.8 L463.8,150.0 L458.8,143.8 L457.5,140.0 L454.4,133.8 L451.2,128.8 L451.9,123.8 L453.8,120.0 L454.4,110.0 L455.7,106.3 L458.0,100.3 L460.3,93.7 L462.3,88.3 L465.0,86.0" fill="none" stroke="#222" stroke-width="1.3" stroke-linejoin="round"/>
<path d="M458.89,103.79L455.60,107.00L455.10,102.43Z" fill="#222" stroke="#222" stroke-width="0.6" stroke-linejoin="round"/>
<path d="M506.56,120.59L510.60,118.40L509.84,122.94Z" fill="#222" stroke="#222" stroke-width="0.6" stroke-linejoin="round"/>
<path d="M465.00,86.00L469.20,87.80" stroke="#222" stroke-width="1.0"/>
<path d="M511.20,91.40L515.20,91.40" stroke="#222" stroke-width="1.0"/>
<text x="465.36" y="98.00" font-size="10.2">B</text>
<text x="503.90" y="99.00" font-size="10.2">A</text>
<path d="M498.0,380.3 L497.7,372.3 L496.0,361.7 L493.3,349.7 L494.3,344.3 L480.0,345.3 L470.0,344.2 L468.3,342.5 L463.3,338.3 L456.7,334.2 L455.0,333.3 L449.2,329.2 L441.7,335.4 L440.8,325.0 L437.5,336.2 L431.7,334.6 L424.6,339.2 L425.4,344.2 L427.1,348.8 L429.2,348.8 L424.2,355.0 L422.5,356.2 L419.2,353.3 L418.3,358.3 L415.0,361.7 L409.2,365.0 L430.0,375.0 L450.0,386.7 L471.7,398.3 L485.0,400.0 L492.5,400.8 L500.8,404.2 L506.7,405.8 L509.6,412.1 L512.5,410.8" fill="none" stroke="#222" stroke-width="1.2" stroke-linejoin="round"/>
<path d="M409.2,365.0 L410.0,366.7 L412.5,373.3 L415.0,378.3 L427.5,379.2 L443.3,385.8 L470.0,399.2 L492.5,400.8 L501.2,394.2 L502.1,390.4 L500.8,425.0 L500.7,428.5 L510.1,445.9 L520.9,453.3 L533.0,457.3 L519.5,460.7 L513.5,459.3 L514.2,456.6 L520.9,452.6 L522.2,444.6 L516.8,448.6 L516.8,439.2 L533.6,429.8 L543.7,417.7 L550.4,409.0 L545.0,412.3 L545.7,393.6 L545.0,383.5 L530.3,380.8 L516.7,380.3 L512.0,373.3 L506.0,369.0 L497.7,373.7" fill="none" stroke="#222" stroke-width="1.2" stroke-linejoin="round"/>
<path d="M491.79,354.87L493.40,349.30L497.12,353.75" fill="none" stroke="#222" stroke-width="1.1" stroke-linejoin="miter"/>
<path d="M542.82,395.53L545.70,390.50L548.26,395.70" fill="none" stroke="#222" stroke-width="1.1" stroke-linejoin="miter"/>
<path d="M427.50,350.50L431.80,346.20" stroke="#222" stroke-width="1.0"/>
<path d="M427.60,346.20L431.60,350.60" stroke="#222" stroke-width="1.0"/>
<path d="M510.80,408.60L515.20,414.80" stroke="#222" stroke-width="1.0"/>
<path d="M510.60,412.60L514.60,409.60" stroke="#222" stroke-width="1.0"/>
<text x="435.90" y="352.30" font-size="10.2">A</text>
<text x="516.16" y="413.90" font-size="10.2">B</text>
<path d="M385.5,714.5 L386.0,711.0 L388.5,695.0 L389.0,694.5 L396.2,682.0 L404.5,680.3 L407.5,678.2 L412.0,680.0 L418.0,683.5 L424.0,687.0 L433.0,687.5 L433.8,687.2 L436.7,684.9 L437.8,683.2 L438.4,665.7 L444.2,672.7 L452.4,680.8 L468.8,674.4 L478.7,676.8 L496.0,678.0 L512.0,672.0 L518.0,667.0 L528.0,654.0 L533.0,650.0 L538.0,641.0 L540.0,639.0" fill="none" stroke="#222" stroke-width="1.2" stroke-linejoin="round"/>
<path d="M430.8,713.0 L433.2,711.2 L436.7,706.5 L438.5,704.0 L443.5,696.0 L446.5,691.0 L450.0,686.2 L460.0,685.5 L474.0,679.7 L483.3,672.7 L490.3,663.3 L496.0,649.0 L498.0,645.0 L504.0,642.0 L509.0,643.0 L511.0,650.0 L520.0,650.0 L525.0,646.5 L533.0,641.0 L538.0,637.5 L540.0,639.0 L533.0,634.5 L534.5,628.5 L539.0,634.0 L540.0,639.0 L545.0,637.5 L549.5,630.0 L550.5,639.0 L543.0,639.0" fill="none" stroke="#222" stroke-width="1.2" stroke-linejoin="round"/>
<path d="M550.5,639.0 L554.5,634.0 L558.0,622.0 L560.5,619.0 L565.0,631.0 L573.0,643.0 L580.0,652.0 L576.5,658.5 L564.0,659.0 L554.0,656.0 L549.0,652.0 L551.0,639.0" fill="none" stroke="#222" stroke-width="1.2" stroke-linejoin="round"/>
<path d="M434.0,685.0 L433.0,691.0 L418.0,688.8 L403.0,688.5 L400.0,695.0 L398.5,698.0 L398.0,701.0 L400.0,705.0 L399.5,707.0 L397.5,708.5 L400.5,709.0 L408.0,711.0 L414.0,709.0 L416.0,711.0 L419.0,714.5 L419.0,709.0 L431.0,706.5 L431.5,712.0 L428.0,714.5 L423.0,714.0 L419.0,710.0" fill="none" stroke="#222" stroke-width="1.2" stroke-linejoin="round"/>
<path d="M385.5,711.5 L398.0,704.5 L412.0,700.0 L414.0,700.0 L420.0,707.0 L424.0,712.0 L432.0,712.5 L437.0,709.0 L442.0,699.5" fill="none" stroke="#222" stroke-width="1.2" stroke-linejoin="round"/>
<path d="M397.61,679.04L404.50,680.30L398.67,684.18" fill="none" stroke="#222" stroke-width="1.1" stroke-linejoin="miter"/>
<path d="M449.18,692.85L443.50,696.00L443.61,689.50" fill="none" stroke="#222" stroke-width="1.1" stroke-linejoin="miter"/>
<path d="M500.65,646.54L495.50,650.50L495.10,644.01" fill="none" stroke="#222" stroke-width="1.1" stroke-linejoin="miter"/>
<path d="M509.52,669.45L516.00,669.00L512.75,674.63" fill="none" stroke="#222" stroke-width="1.1" stroke-linejoin="miter"/>
<path d="M432.80,683.80L437.20,682.20" stroke="#222" stroke-width="1.0"/>
<path d="M428.80,711.00L433.60,715.50" stroke="#222" stroke-width="1.0"/>
<text x="430.06" y="679.40" font-size="10.2">B</text>
<text x="437.80" y="721.90" font-size="10.2">A</text>
</g>
</svg>
</body></html>
